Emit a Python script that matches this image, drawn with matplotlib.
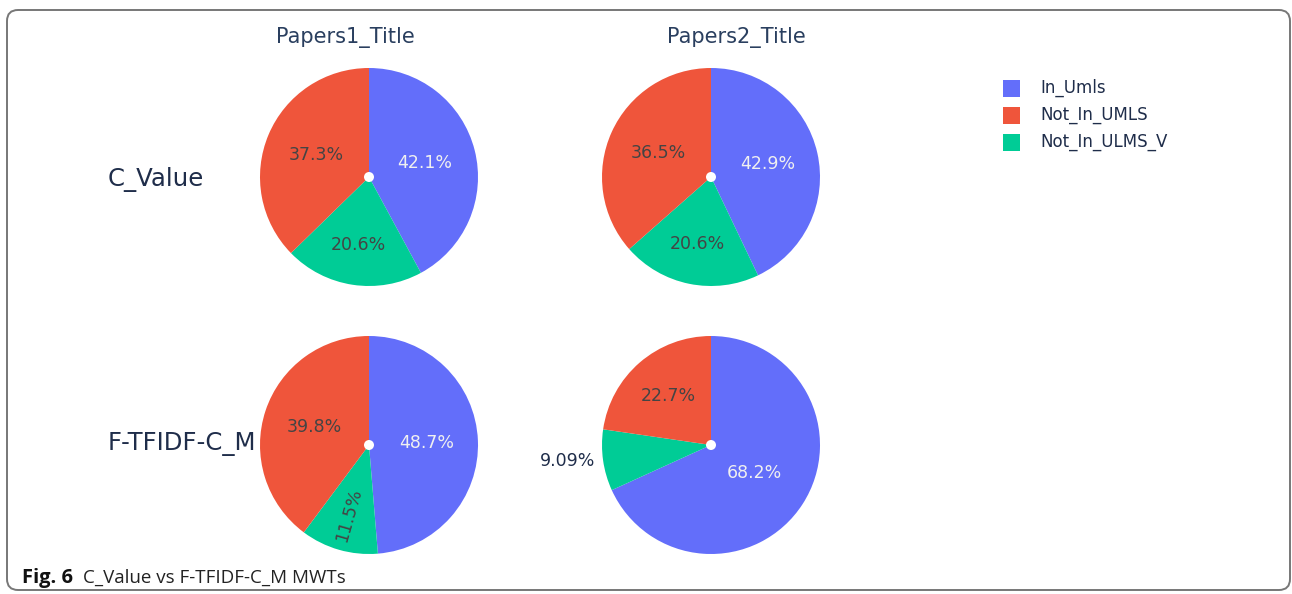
import matplotlib
matplotlib.use('Agg')
import matplotlib.pyplot as plt
from matplotlib.patches import FancyBboxPatch, Circle, Rectangle
import numpy as np

# ---------------- data ----------------
categories = ['In_Umls', 'Not_In_UMLS', 'Not_In_ULMS_V']
column_titles = ['Papers1_Title', 'Papers2_Title']
row_titles = ['C_Value', 'F-TFIDF-C_M']
c_value_papers1 = [42.1, 37.3, 20.6]
c_value_papers2 = [42.9, 36.5, 20.6]
ftfidf_papers1 = [48.7, 39.8, 11.5]
ftfidf_papers2 = [68.2, 22.7, 9.09]
caption_bold = 'Fig. 6'
caption_text = 'C_Value vs F-TFIDF-C_M MWTs'

# ---------------- style ----------------
colors = ['#636EFA', '#EF553B', '#00CC96']
slice_order = [0, 2, 1]          # clockwise from 12 o'clock
text_on = ['#f0f0f0', '#444444', '#444444']
navy = '#2a3f5f'

W, H = 1292, 594
fig = plt.figure(figsize=(W / 100, H / 100), dpi=100)
ax = fig.add_axes([0, 0, 1, 1])

def Y(y):
    return H - y

R = 109
pies = [
    (c_value_papers1, 369, 177, 'normal'),
    (c_value_papers2, 711, 177, 'normal'),
    (ftfidf_papers1, 369, 445, 'radial_small'),
    (ftfidf_papers2, 711, 445, 'outside_small'),
]

for vals, cx, cy, mode in pies:
    ordered = [vals[i] for i in slice_order]
    cols = [colors[i] for i in slice_order]
    wedges, _, autotexts = ax.pie(
        ordered, colors=cols, startangle=90, counterclock=False,
        radius=R, center=(cx, Y(cy)),
        autopct=lambda p: f'{p:.3g}%', pctdistance=0.55,
        wedgeprops=dict(linewidth=0),
        textprops=dict(fontsize=12.5, family='DejaVu Sans'))
    for k, (w, t) in enumerate(zip(wedges, autotexts)):
        idx = slice_order[k]
        t.set_color(text_on[idx])
        mid = np.deg2rad((w.theta1 + w.theta2) / 2)
        d = 0.53
        if idx == 2:
            d = 0.63
        if idx == 0 and mode == 'outside_small':
            d = 0.47
        if idx == 1 and mode == 'outside_small':
            d = 0.6
        if idx == 2 and mode == 'radial_small':
            d = 0.67
            t.set_rotation(np.rad2deg(mid) + 180)
        t.set_position((cx + d * R * np.cos(mid), Y(cy) + d * R * np.sin(mid)))
        if idx == 2 and mode == 'outside_small':
            d = 1.07
            t.set_position((cx + d * R * np.cos(mid), Y(cy) + d * R * np.sin(mid)))
            t.set_ha('right')
            t.set_color('#1f2d4a')
    ax.add_patch(Circle((cx, Y(cy)), 5, facecolor='white', edgecolor='none', zorder=5))

# column titles
for title, x in zip(column_titles, [345, 736]):
    ax.text(x, Y(37), title, fontsize=15, color=navy, ha='center', va='center',
            family='DejaVu Sans')

# row titles
for title, y in zip(row_titles, [180, 444]):
    ax.text(108, Y(y), title, fontsize=17.6, color='#1f2d4a', ha='left', va='center',
            family='DejaVu Sans')

# legend
for k, (name, c) in enumerate(zip(categories, colors)):
    yc = 88 + 27 * k
    ax.add_patch(Rectangle((1003, Y(yc) - 8.5), 17, 17, facecolor=c, edgecolor='none'))
    ax.text(1040, Y(yc), name, fontsize=12, color='#1f2d4a', ha='left', va='center',
            family='DejaVu Sans')

# border
ax.add_patch(FancyBboxPatch((7, Y(590)), 1283, 580,
                            boxstyle='round,pad=0,rounding_size=11',
                            facecolor='none', edgecolor='#777777', linewidth=1.4))

# caption
ax.text(22, Y(578), caption_bold, fontsize=14.5, fontweight='bold', color='#111111',
        ha='left', va='center', family='Open Sans')
ax.text(83, Y(578), caption_text, fontsize=13.5, color='#222222',
        ha='left', va='center', family='Open Sans')

ax.set_xlim(0, W)
ax.set_ylim(0, H)
ax.set_aspect('auto')
ax.axis('off')
fig.savefig('out.png', dpi=100)
